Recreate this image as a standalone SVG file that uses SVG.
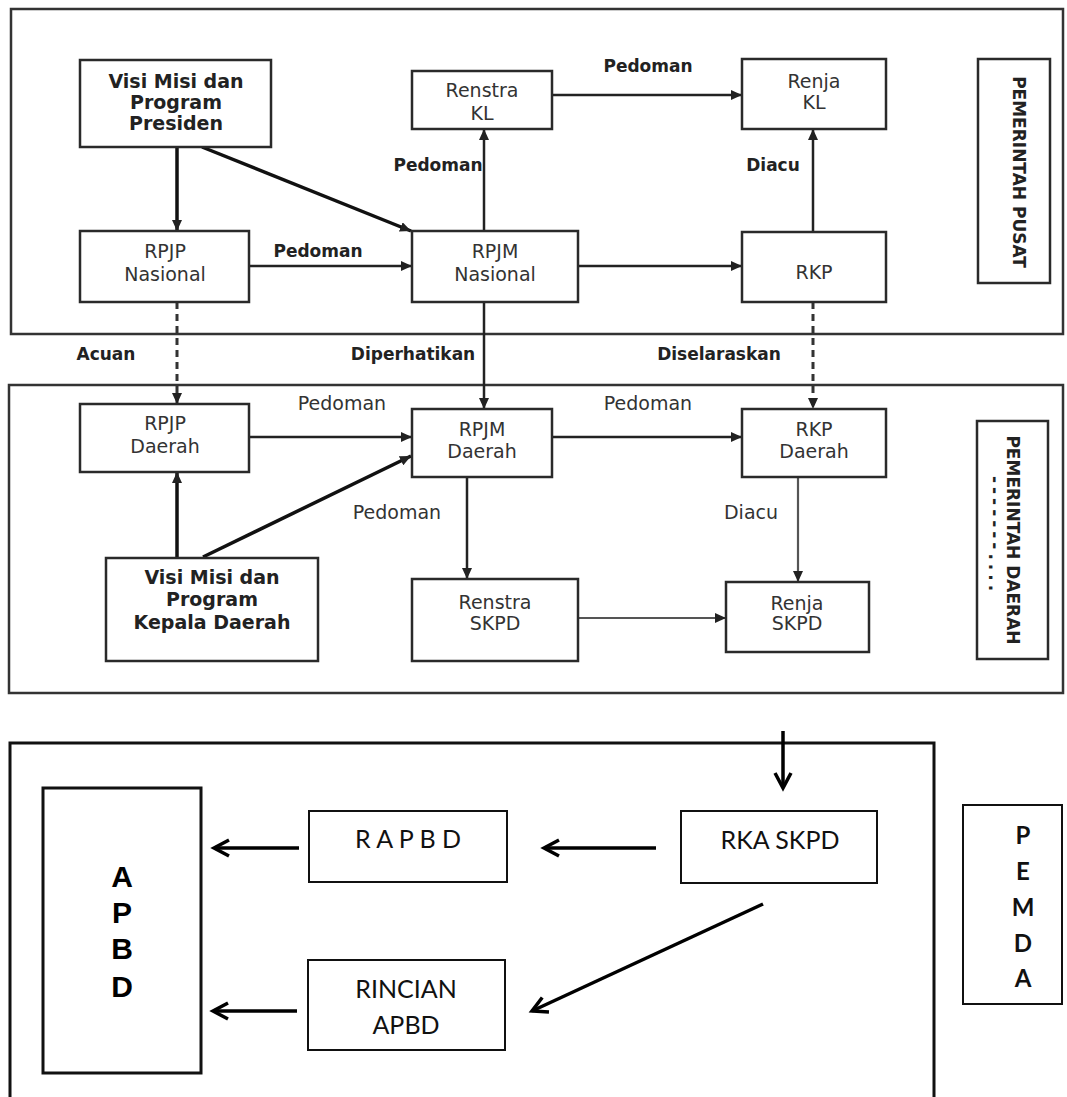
<svg xmlns="http://www.w3.org/2000/svg" width="1067" height="1097" viewBox="0 0 1067 1097">
<style>
.frame{fill:none;stroke:#333;stroke-width:2.5}
.box{fill:#fff;stroke:#2a2a2a;stroke-width:2.5}
.nt{font-family:"DejaVu Sans",Verdana,sans-serif;font-size:19px;fill:#333;text-anchor:middle}
.nb{font-family:"DejaVu Sans",Verdana,sans-serif;font-size:19px;font-weight:bold;fill:#222;text-anchor:middle}
.lb{font-family:"DejaVu Sans",Verdana,sans-serif;font-size:17px;font-weight:bold;fill:#222;text-anchor:middle}
.lr{font-family:"DejaVu Sans",Verdana,sans-serif;font-size:19px;fill:#333;text-anchor:middle}
.rot{font-family:"DejaVu Sans",Verdana,sans-serif;font-size:17px;font-weight:bold;fill:#222;text-anchor:middle}
.c{fill:none;stroke:#222;stroke-width:2.5;marker-end:url(#fa)}
.ct{fill:none;stroke:#111;stroke-width:3.5;marker-end:url(#fa)}
.cg{fill:none;stroke:#555;stroke-width:2.2;marker-end:url(#fa)}
.cd{fill:none;stroke:#333;stroke-width:3;stroke-dasharray:7,5;marker-end:url(#fa)}
.b2{fill:#fff;stroke:#111;stroke-width:2}
.b3{fill:none;stroke:#111;stroke-width:3}
.tl{font-family:Lato,"Open Sans",sans-serif;font-size:25px;fill:#111;text-anchor:middle}
.tlb{font-family:Lato,"Open Sans",sans-serif;font-size:24px;font-weight:bold;fill:#111;text-anchor:middle}
.ta{font-family:"Liberation Sans",Arial,sans-serif;font-size:30px;font-weight:bold;fill:#000;text-anchor:middle}
.ca{fill:none;stroke:#000;stroke-width:3.5;marker-end:url(#ch)}
</style>
<defs>
<marker id="fa" markerUnits="userSpaceOnUse" markerWidth="12" markerHeight="10" refX="11" refY="5" orient="auto">
<path d="M0,0 L11,5 L0,10 z" fill="#222"/>
</marker>
<marker id="ch" markerUnits="userSpaceOnUse" markerWidth="22" markerHeight="22" refX="17" refY="11" orient="auto">
<path d="M2,3 L17,11 L2,19" fill="none" stroke="#000" stroke-width="3.5"/>
</marker>
</defs>
<rect width="1067" height="1097" fill="#fff"/>

<!-- section frames -->
<g id="frames">
<rect class="frame" x="11" y="9" width="1052" height="325"/>
<rect class="frame" x="9" y="385" width="1054" height="308"/>
<path class="b3" d="M10,1100 V743 H934 V1100"/>
</g>

<!-- connectors -->
<g id="connectors">
<path class="ct" d="M177,147 V231"/>
<path class="ct" d="M202,147 L411,231"/>
<path class="c" d="M249,266 H412"/>
<path class="c" d="M484,231 V129"/>
<path class="c" d="M552,95 H742"/>
<path class="c" d="M813,232 V129"/>
<path class="c" d="M578,266 H742"/>
<path class="c" d="M484,302 V409"/>
<path class="cd" d="M177,302 V404"/>
<path class="cd" d="M813,302 V409"/>
<path class="c" d="M249,437 H412"/>
<path class="ct" d="M177,558 V472"/>
<path class="ct" d="M203,557 L411,456"/>
<path class="c" d="M552,437 H742"/>
<path class="c" d="M467,477 V579"/>
<path class="cg" d="M798,477 V582"/>
<path class="cg" d="M578,618 H726"/>
<path class="ca" d="M783,731 V788"/>
<path class="ca" d="M656,848 H544"/>
<path class="ca" d="M299,848 H214"/>
<path class="ca" d="M297,1011 H213"/>
<path class="ca" d="M763,904 L532,1011"/>
</g>

<!-- connector labels -->
<g id="labels">
<text class="lb" x="318" y="257">Pedoman</text>
<text class="lb" x="438" y="171">Pedoman</text>
<text class="lb" x="648" y="72">Pedoman</text>
<text class="lb" x="773" y="171">Diacu</text>
<text class="lb" x="106" y="360">Acuan</text>
<text class="lb" x="413" y="360">Diperhatikan</text>
<text class="lb" x="719" y="360">Diselaraskan</text>
<text class="lr" x="342" y="410">Pedoman</text>
<text class="lr" x="648" y="410">Pedoman</text>
<text class="lr" x="397" y="519">Pedoman</text>
<text class="lr" x="751" y="519">Diacu</text>
</g>

<g id="visi-presiden">
<rect class="box" x="80" y="60" width="191" height="87"/>
<text class="nb" x="176" y="88">Visi Misi dan</text>
<text class="nb" x="176" y="109">Program</text>
<text class="nb" x="176" y="130">Presiden</text>
</g>
<g id="rpjp-nasional">
<rect class="box" x="80" y="231" width="169" height="71"/>
<text class="nt" x="165" y="258">RPJP</text>
<text class="nt" x="165" y="281">Nasional</text>
</g>
<g id="rpjm-nasional">
<rect class="box" x="412" y="231" width="166" height="71"/>
<text class="nt" x="495" y="258">RPJM</text>
<text class="nt" x="495" y="281">Nasional</text>
</g>
<g id="renstra-kl">
<rect class="box" x="412" y="71" width="140" height="58"/>
<text class="nt" x="482" y="97">Renstra</text>
<text class="nt" x="482" y="120">KL</text>
</g>
<g id="renja-kl">
<rect class="box" x="742" y="59" width="144" height="70"/>
<text class="nt" x="814" y="88">Renja</text>
<text class="nt" x="814" y="109">KL</text>
</g>
<g id="rkp">
<rect class="box" x="742" y="232" width="144" height="70"/>
<text class="nt" x="814" y="279">RKP</text>
</g>
<g id="pemerintah-pusat">
<rect class="box" x="978" y="59" width="72" height="224"/>
<text class="rot" transform="translate(1013,172) rotate(90)">PEMERINTAH PUSAT</text>
</g>

<g id="rpjp-daerah">
<rect class="box" x="80" y="404" width="169" height="68"/>
<text class="nt" x="165" y="430">RPJP</text>
<text class="nt" x="165" y="453">Daerah</text>
</g>
<g id="rpjm-daerah">
<rect class="box" x="412" y="409" width="140" height="68"/>
<text class="nt" x="482" y="436">RPJM</text>
<text class="nt" x="482" y="458">Daerah</text>
</g>
<g id="rkp-daerah">
<rect class="box" x="742" y="409" width="144" height="68"/>
<text class="nt" x="814" y="436">RKP</text>
<text class="nt" x="814" y="458">Daerah</text>
</g>
<g id="visi-kepala-daerah">
<rect class="box" x="106" y="558" width="212" height="103"/>
<text class="nb" x="212" y="584">Visi Misi dan</text>
<text class="nb" x="212" y="606">Program</text>
<text class="nb" x="212" y="629">Kepala Daerah</text>
</g>
<g id="renstra-skpd">
<rect class="box" x="412" y="579" width="166" height="82"/>
<text class="nt" x="495" y="609">Renstra</text>
<text class="nt" x="495" y="630">SKPD</text>
</g>
<g id="renja-skpd">
<rect class="box" x="726" y="582" width="143" height="70"/>
<text class="nt" x="797" y="610">Renja</text>
<text class="nt" x="797" y="630">SKPD</text>
</g>
<g id="pemerintah-daerah">
<rect class="box" x="977" y="421" width="71" height="238"/>
<text class="rot" transform="translate(1007,540) rotate(90)">PEMERINTAH DAERAH</text>
<text class="rot" style="text-anchor:start;letter-spacing:4px" transform="translate(989,476) rotate(90)">-------....</text>
</g>

<g id="apbd">
<rect class="b3" x="43" y="788" width="158" height="285"/>
<text class="ta" x="122" y="887">A</text>
<text class="ta" x="122" y="923">P</text>
<text class="ta" x="122" y="959">B</text>
<text class="ta" x="122" y="997">D</text>
</g>
<g id="rapbd">
<rect class="b2" x="309" y="811" width="198" height="71"/>
<text class="tl" x="408" y="848">R A P B D</text>
</g>
<g id="rka-skpd">
<rect class="b2" x="681" y="811" width="196" height="72"/>
<text class="tl" x="780" y="849">RKA SKPD</text>
</g>
<g id="rincian-apbd">
<rect class="b2" x="308" y="960" width="197" height="90"/>
<text class="tl" x="406" y="998">RINCIAN</text>
<text class="tl" x="406" y="1034">APBD</text>
</g>
<g id="pemda">
<rect class="b2" x="963" y="805" width="99" height="199"/>
<text class="tlb" x="1023" y="844">P</text>
<text class="tlb" x="1023" y="880">E</text>
<text class="tlb" x="1023" y="916">M</text>
<text class="tlb" x="1023" y="952">D</text>
<text class="tlb" x="1023" y="987">A</text>
</g>
</svg>
